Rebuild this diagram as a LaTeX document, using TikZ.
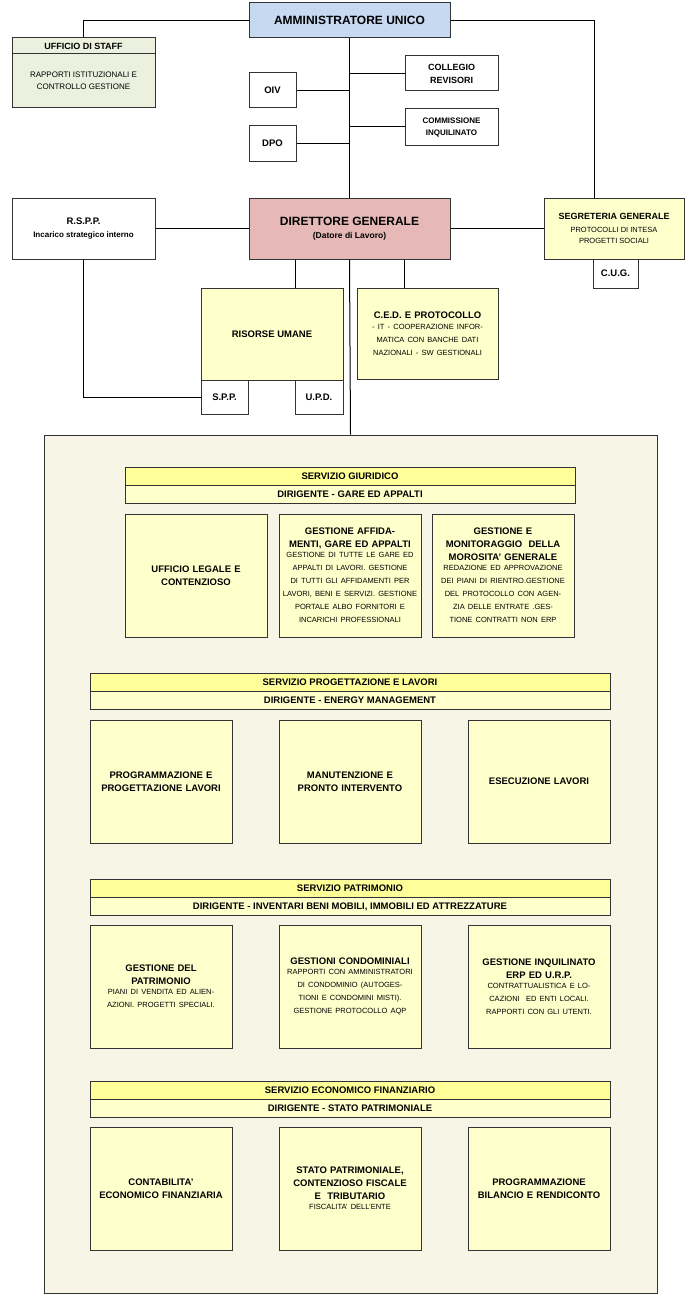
\documentclass[tikz,border=0pt]{standalone}
\usepackage{fontspec}
\setmainfont{Liberation Sans}
\usetikzlibrary{positioning,calc}
\definecolor{aublue}{HTML}{C6D9F1}
\definecolor{dgpink}{HTML}{E6B9B8}
\definecolor{staffgreen}{HTML}{EBF1DE}
\definecolor{boxyellow}{HTML}{FFFFCC}
\definecolor{bandyellow}{HTML}{FFFF99}
\definecolor{panelbg}{HTML}{F7F5E6}
\newcommand{\hd}[1]{{\fontsize{9.5}{13}\selectfont\bfseries #1}}
\newcommand{\bd}[1]{{\fontsize{7.5}{10}\selectfont #1}}
\begin{document}
\begin{tikzpicture}[x=1pt,y=-1pt,line width=1pt,
  box/.style={draw=black!80,fill=white,align=center,inner sep=1pt,font=\fontsize{9.5}{13}\selectfont\bfseries},
  yel/.style={box,fill=boxyellow},
  band/.style={box,fill=bandyellow,minimum width=#1,minimum height=17.5},
  sub/.style={box,fill=boxyellow,minimum width=#1,minimum height=18},
  unit/.style={yel,minimum width=142,minimum height=123,text width=136}]
\useasboundingbox (0,0) rectangle (700,1295);
% vertice
\node[box,fill=aublue,minimum width=201,minimum height=35,font=\fontsize{12}{14}\selectfont\bfseries] (au) at (349.5,20.5) {AMMINISTRATORE UNICO};
\node[box,fill=staffgreen,minimum width=143,minimum height=54,font=\fontsize{8}{12}\selectfont] (staffb) at (83.5,81) {RAPPORTI ISTITUZIONALI E\\CONTROLLO GESTIONE};
\node[box,fill=staffgreen,minimum width=143,minimum height=16] (staff) at (83.5,46) {\fontsize{9}{11}\selectfont UFFICIO DI STAFF};
\node[box,minimum width=93,minimum height=35,font=\fontsize{9}{13}\selectfont\bfseries] (coll) at (451.5,73.5) {COLLEGIO\\REVISORI};
\node[box,minimum width=47,minimum height=35] (oiv) at (272.5,90.5) {OIV};
\node[box,minimum width=93,minimum height=36,font=\fontsize{8}{12}\selectfont\bfseries] (comm) at (451.5,127) {COMMISSIONE\\INQUILINATO};
\node[box,minimum width=47,minimum height=35] (dpo) at (272.5,143.5) {DPO};
\node[box,fill=dgpink,minimum width=201,minimum height=61] (dg) at (349.5,228.5) {\fontsize{12}{16}\selectfont DIRETTORE GENERALE\\\fontsize{8.5}{11}\selectfont (Datore di Lavoro)};
\node[box,minimum width=143,minimum height=61] (rspp) at (83.5,228.5) {R.S.P.P.\\\fontsize{8}{11}\selectfont Incarico strategico interno};
\node[yel,minimum width=140,minimum height=61] (seg) at (614,228.5) {\fontsize{9}{12}\selectfont SEGRETERIA GENERALE\\\bd{\mdseries PROTOCOLLI DI INTESA}\\[-2pt]\bd{\mdseries PROGETTI SOCIALI}};
\node[box,minimum width=45,minimum height=29] (cug) at (615.5,273.5) {C.U.G.};
\node[yel,minimum width=142,minimum height=92] (ru) at (272,334) {RISORSE UMANE};
\node[box,minimum width=47,minimum height=34] (spp) at (224.5,397) {S.P.P.};
\node[box,minimum width=48,minimum height=34] (upd) at (319,397) {U.P.D.};
\node[yel,minimum width=141,minimum height=91,text width=136] (ced) at (427.5,333.5) {\hd{C.E.D. E PROTOCOLLO}\\[-2pt]\bd{\mdseries - IT - COOPERAZIONE INFORMATICA CON BANCHE DATI NAZIONALI - SW GESTIONALI}\\[10pt]};
\node[draw=black!80,fill=panelbg,minimum width=613,minimum height=858] (panel) at (350.5,864) {};
% collegamenti
\draw (au) -- (dg);
\draw (au.west) -| (staff.north);
\draw (au.east) -| ([xshift=-20pt]seg.north);
\draw (oiv.east) -- (oiv.east -| au.south);
\draw (dpo.east) -- (dpo.east -| au.south);
\draw (coll.west) -- (coll.west -| au.south);
\draw (comm.west) -- (comm.west -| au.south);
\draw (rspp) -- (dg);
\draw (dg) -- (seg);
\draw ([xshift=-48pt]ru.north east) -- ([xshift=-48pt]ru.north east |- dg.south);
\draw ([xshift=-23pt]ced.north) -- ([xshift=-23pt]ced.north |- dg.south);
\draw (dg.south) -- (panel.north);
\draw (rspp.south) |- (spp.west);
% servizio giuridico
\node[band=450] (sg) at (350,476.5) {SERVIZIO GIURIDICO};
\node[sub=450] (sgd) at (350,494) {DIRIGENTE - GARE ED APPALTI};
\node[unit] (sg1) at (196,575.5) {UFFICIO LEGALE E\\CONTENZIOSO};
\node[unit] (sg2) at (350,575.5) {GESTIONE AFFIDAMENTI, GARE ED APPALTI\\[-3pt]\bd{\mdseries GESTIONE DI TUTTE LE GARE ED APPALTI DI LAVORI. GESTIONE DI TUTTI GLI AFFIDAMENTI PER LAVORI, BENI E SERVIZI. GESTIONE PORTALE ALBO FORNITORI E INCARICHI PROFESSIONALI}};
\node[unit] (sg3) at (503,575.5) {GESTIONE E\\MONITORAGGIO~ DELLA\\MOROSITA' GENERALE\\[-3pt]\bd{\mdseries REDAZIONE ED APPROVAZIONE DEI PIANI DI RIENTRO.GESTIONE DEL PROTOCOLLO CON AGENZIA DELLE ENTRATE .GESTIONE CONTRATTI NON ERP}};
% servizio progettazione
\node[band=520] (sp) at (350,682.5) {SERVIZIO PROGETTAZIONE E LAVORI};
\node[sub=520] (spd) at (350,700.5) {DIRIGENTE - ENERGY MANAGEMENT};
\node[unit] (sp1) at (161,781.5) {PROGRAMMAZIONE E\\PROGETTAZIONE LAVORI};
\node[unit] (sp2) at (350,781.5) {MANUTENZIONE E\\PRONTO INTERVENTO};
\node[unit] (sp3) at (539,781.5) {ESECUZIONE LAVORI};
% servizio patrimonio
\node[band=520] (pa) at (350,888.5) {SERVIZIO PATRIMONIO};
\node[sub=520] (pad) at (350,906.5) {DIRIGENTE - INVENTARI BENI MOBILI, IMMOBILI ED ATTREZZATURE};
\node[unit] (pa1) at (161,986.5) {GESTIONE DEL\\PATRIMONIO\\[-3pt]\bd{\mdseries PIANI DI VENDITA ED ALIENAZIONI. PROGETTI SPECIALI.}\\[8pt]};
\node[unit] (pa2) at (350,986.5) {GESTIONI CONDOMINIALI\\[-3pt]\bd{\mdseries RAPPORTI CON AMMINISTRATORI DI CONDOMINIO (AUTOGESTIONI E CONDOMINI MISTI). GESTIONE PROTOCOLLO AQP}};
\node[unit] (pa3) at (539,986.5) {GESTIONE INQUILINATO\\ERP ED U.R.P.\\[-3pt]\bd{\mdseries CONTRATTUALISTICA E LOCAZIONI~ ED ENTI LOCALI. RAPPORTI CON GLI UTENTI.}};
% servizio economico
\node[band=520] (ef) at (350,1090.5) {SERVIZIO ECONOMICO FINANZIARIO};
\node[sub=520] (efd) at (350,1108) {DIRIGENTE - STATO PATRIMONIALE};
\node[unit] (ef1) at (161,1188.5) {CONTABILITA'\\ECONOMICO FINANZIARIA};
\node[unit] (ef2) at (350,1188.5) {STATO PATRIMONIALE, CONTENZIOSO FISCALE\\E~ TRIBUTARIO\\[-3pt]\bd{\mdseries FISCALITA' DELL'ENTE}};
\node[unit] (ef3) at (539,1188.5) {PROGRAMMAZIONE\\BILANCIO E RENDICONTO};
\end{tikzpicture}
\end{document}
